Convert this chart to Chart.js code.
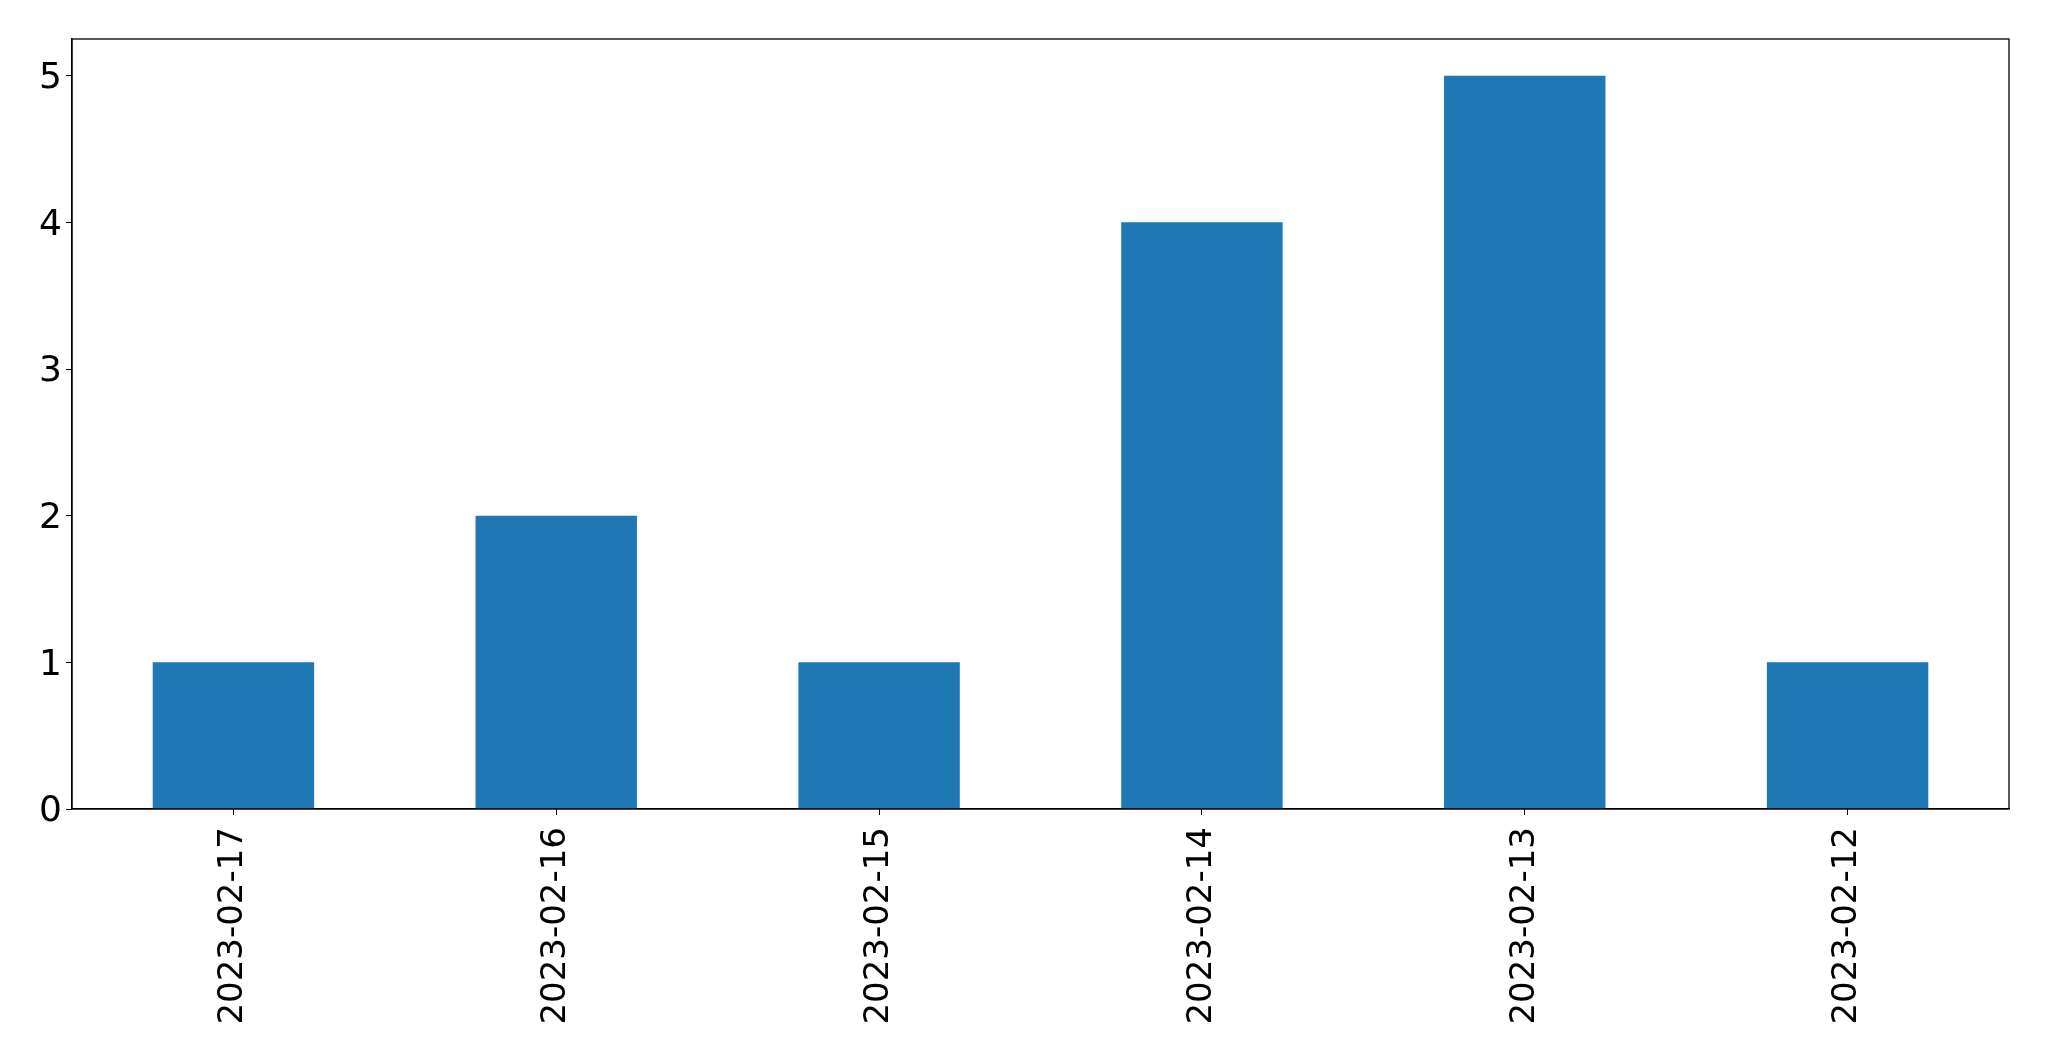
<!DOCTYPE html>
<html>
<head>
<meta charset="utf-8">
<script src="https://cdn.jsdelivr.net/npm/chart.js@4/dist/chart.umd.min.js"></script>
<style>
html,body{margin:0;padding:0;background:#fff;}
#wrap{width:2049px;height:1061px;position:relative;}
</style>
</head>
<body>
<div id="wrap"><canvas id="c" width="2049" height="1061"></canvas></div>
<script>
const categories = ["2023-02-17","2023-02-16","2023-02-15","2023-02-14","2023-02-13","2023-02-12"];
const counts = [1, 2, 1, 4, 5, 1];
const yTicks = [0, 1, 2, 3, 4, 5];

const frame = {
  id: 'frame',
  afterDraw(chart) {
    const a = chart.chartArea, ctx = chart.ctx;
    ctx.save();
    ctx.strokeStyle = '#000';
    ctx.lineWidth = 1.3;
    ctx.strokeRect(a.left, a.top, a.right - a.left, a.bottom - a.top);
    ctx.restore();
  }
};

new Chart(document.getElementById('c'), {
  type: 'bar',
  data: {
    labels: categories,
    datasets: [{
      data: counts,
      backgroundColor: '#1f77b4',
      borderWidth: 0,
      categoryPercentage: 1.0,
      barPercentage: 0.5
    }]
  },
  options: {
    responsive: false,
    animation: false,
    devicePixelRatio: 1,
    layout: { padding: { top: 39, right: 40, left: 0, bottom: 0 } },
    plugins: { legend: { display: false }, tooltip: { enabled: false } },
    scales: {
      x: {
        offset: true,
        grid: { display: true, drawOnChartArea: false, drawTicks: true, tickLength: 6, color: '#000', offset: false },
        border: { display: true, color: '#000', width: 1.3 },
        ticks: {
          minRotation: 90, maxRotation: 90, autoSkip: false,
          color: '#000', padding: 12,
          font: { family: 'DejaVu Sans', size: 34 }
        },
        afterFit(axis) { axis.height = 252; }
      },
      y: {
        min: 0, max: 5.25,
        grid: { display: true, drawOnChartArea: false, drawTicks: true, tickLength: 6, color: '#000' },
        border: { display: true, color: '#000', width: 1.3 },
        ticks: {
          stepSize: 1, color: '#000', padding: 4, labelOffset: 3,
          font: { family: 'DejaVu Sans', size: 36 }
        },
        afterBuildTicks(axis) { axis.ticks = yTicks.map(v => ({ value: v })); },
        afterFit(axis) { axis.width = 72; }
      }
    }
  },
  plugins: [frame]
});
</script>
</body>
</html>
